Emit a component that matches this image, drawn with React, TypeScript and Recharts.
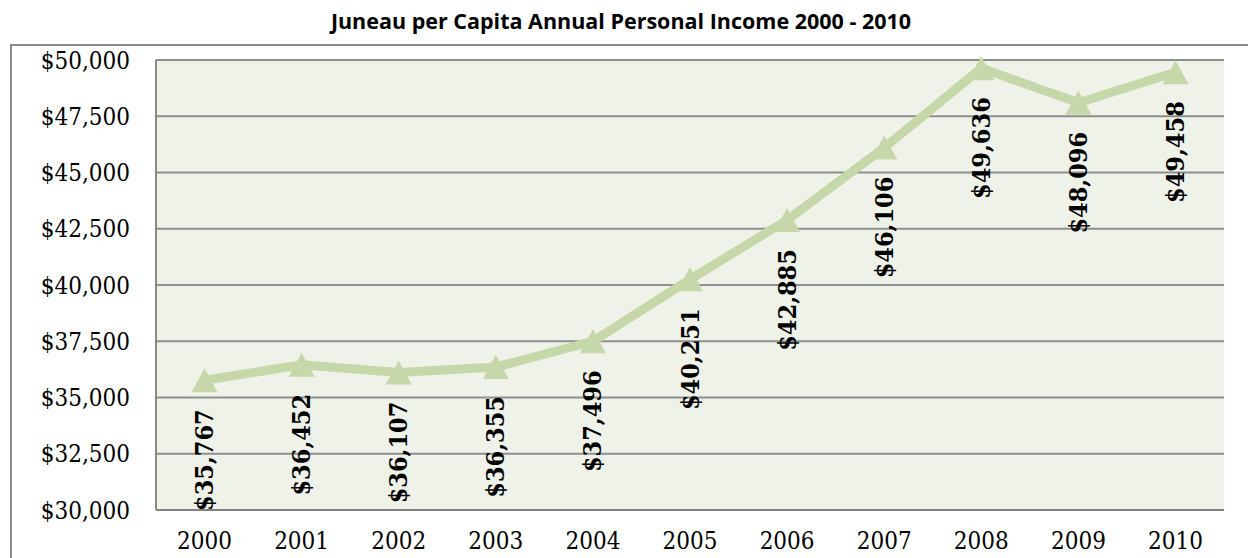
import { LineChart, Line, XAxis, YAxis, CartesianGrid, LabelList } from 'recharts'

const years = ['2000', '2001', '2002', '2003', '2004', '2005', '2006', '2007', '2008', '2009', '2010']
const income = [35767, 36452, 36107, 36355, 37496, 40251, 42885, 46106, 49636, 48096, 49458]
const yTicks = [30000, 32500, 35000, 37500, 40000, 42500, 45000, 47500, 50000]

const data = years.map((year, i) => ({ year, income: income[i] }))

const SERIF = '"DejaVu Serif Condensed", "DejaVu Serif", serif'
const GREEN = '#c6d8a9'
const GRID = '#8e8e8e'

const money = (v: number) => '$' + v.toLocaleString('en-US')

function Triangle(props: any) {
  const { cx, cy, index } = props
  if (cx == null || cy == null) return null
  const w = 26
  const h = 24
  const pts = `${cx},${cy - h / 2} ${cx + w / 2},${cy + h / 2} ${cx - w / 2},${cy + h / 2}`
  return <polygon key={index} points={pts} fill={GREEN} />
}

function ValueLabel(props: any) {
  const { x, y, value } = props
  return (
    <text
      transform={`translate(${x},${y + 29}) rotate(-90)`}
      textAnchor="end"
      dominantBaseline="central"
      fontFamily={SERIF}
      fontWeight="bold"
      fontSize={25}
      fill="#000"
    >
      {money(value)}
    </text>
  )
}

export default function App() {
  return (
    <div style={{ position: 'absolute', left: 0, top: 0, width: 1248, height: 558, overflow: 'hidden', background: '#fff' }}>
      {/* outer chart frame */}
      <div style={{ position: 'absolute', left: 10, top: 44, width: 1260, height: 600, border: '2px solid #8a8a8a' }} />
      <div
        style={{
          position: 'absolute', left: 0, top: 6, width: 1242, textAlign: 'center',
          fontFamily: '"Open Sans", sans-serif', fontWeight: 700, fontSize: 21.5, color: '#000',
        }}
      >
        Juneau per Capita Annual Personal Income 2000 - 2010
      </div>
      <div style={{ position: 'absolute', left: 0, top: 0 }}>
        <LineChart width={1248} height={558} data={data} margin={{ top: 60, right: 24, bottom: 0, left: 0 }}>
          <CartesianGrid vertical={false} fill="#eff2e8" stroke={GRID} strokeWidth={2} horizontalValues={yTicks} />
          <XAxis
            dataKey="year"
            height={48}
            padding={{ left: 48.5, right: 48.5 }}
            tickLine={false}
            axisLine={{ stroke: '#808080', strokeWidth: 2 }}
            tickMargin={16}
            tick={{ fontFamily: SERIF, fontSize: 24, fill: '#000' }}
            interval={0}
          />
          <YAxis
            width={156}
            domain={[30000, 50000]}
            ticks={yTicks}
            tickFormatter={money}
            tickLine={false}
            tickSize={0}
            tickMargin={26}
            axisLine={{ stroke: '#8a8a8a', strokeWidth: 2 }}
            tick={{ fontFamily: SERIF, fontSize: 24, fill: '#000' }}
          />
          <Line
            type="linear"
            dataKey="income"
            stroke={GREEN}
            strokeWidth={9}
            dot={Triangle}
            activeDot={false}
            isAnimationActive={false}
          >
            <LabelList dataKey="income" content={ValueLabel} />
          </Line>
        </LineChart>
      </div>
    </div>
  )
}
